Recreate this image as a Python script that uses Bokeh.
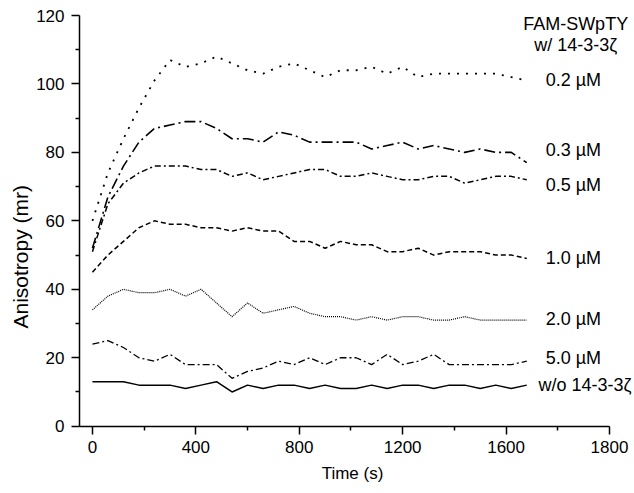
import math
from bokeh.plotting import figure
from bokeh.models import Range1d, FixedTicker, Label
from bokeh.embed import file_html
from bokeh.resources import INLINE

# ---------------- data ----------------
time_s = list(range(0, 1681, 60))

aniso_02 = [60, 74, 84, 93, 101, 107, 105, 106, 108, 106, 104, 103, 105, 106, 104,
            102, 104, 104, 105, 103, 105, 102, 103, 103, 103, 103, 103, 102, 101]
aniso_03 = [52, 67, 76, 83, 87, 88, 89, 89, 87, 84, 84, 83, 86, 85, 83,
            83, 83, 83, 81, 82, 83, 81, 82, 81, 80, 81, 80, 80, 77]
aniso_05 = [51, 65, 71, 74, 76, 76, 76, 75, 75, 73, 74, 72, 73, 74, 75,
            75, 73, 73, 74, 73, 72, 72, 73, 73, 71, 72, 73, 73, 72]
aniso_10 = [45, 50, 54, 58, 60, 59, 59, 58, 58, 57, 58, 57, 57, 54, 54,
            52, 54, 53, 53, 51, 51, 52, 50, 51, 51, 51, 50, 50, 49]
aniso_20 = [34, 38, 40, 39, 39, 40, 38, 40, 36, 32, 36, 33, 34, 35, 33,
            32, 32, 31, 32, 31, 32, 32, 31, 31, 32, 31, 31, 31, 31]
aniso_50 = [24, 25, 23, 20, 19, 21, 18, 18, 18, 14, 16, 17, 19, 18, 20,
            18, 20, 20, 18, 21, 18, 19, 21, 18, 18, 18, 18, 18, 19]
aniso_wo = [13, 13, 13, 12, 12, 12, 11, 12, 13, 10, 12, 11, 12, 12, 11,
            12, 11, 11, 12, 11, 12, 12, 11, 12, 12, 11, 12, 11, 12]

series_labels = ["0.2 \u00b5M", "0.3 \u00b5M", "0.5 \u00b5M", "1.0 \u00b5M",
                 "2.0 \u00b5M", "5.0 \u00b5M", "w/o 14-3-3\u03b6"]
header_lines = ["FAM-SWpTY", "w/ 14-3-3\u03b6"]
x_title = "Time (s)"
y_title = "Anisotropy (mr)"

x_major_ticks = [0, 400, 800, 1200, 1600, 2000]
x_tick_labels = ["0", "400", "800", "1200", "1600", "1800"]
x_minor_ticks = [200, 600, 1000, 1400, 1800]
y_major_ticks = [0, 20, 40, 60, 80, 100, 120]
y_minor_ticks = [10, 30, 50, 70, 90, 110]

# ---------------- layout (pixel geometry of the axes box) ----------------
FONT = "Liberation Sans"
W, H = 634, 493
AX_L, AX_R = 79.0, 609.0        # px of x-axis start / end
AX_T, AX_B = 15.0, 425.7        # px of y-axis top / bottom
x_ax_lo, x_ax_hi = -50, 2000
y_ax_lo, y_ax_hi = 0, 120
sx = (x_ax_hi - x_ax_lo) / (AX_R - AX_L)
sy = (y_ax_hi - y_ax_lo) / (AX_B - AX_T)
XL = x_ax_lo - AX_L * sx
XR = x_ax_lo + (W - AX_L) * sx
YT = y_ax_hi + AX_T * sy
YB = y_ax_lo - (H - AX_B) * sy

p = figure(width=W, height=H, output_backend="svg", toolbar_location=None,
           x_range=Range1d(XL, XR), y_range=Range1d(YB, YT),
           min_border_left=0, min_border_right=0, min_border_top=0,
           min_border_bottom=0)
p.xgrid.visible = False
p.ygrid.visible = False
p.outline_line_color = None
p.background_fill_color = "white"
p.border_fill_color = "white"

p.xaxis.fixed_location = y_ax_lo
p.yaxis.fixed_location = x_ax_lo
p.xaxis.bounds = (x_ax_lo, x_ax_hi)
p.yaxis.bounds = (y_ax_lo, y_ax_hi)
p.xaxis.ticker = FixedTicker(ticks=x_major_ticks, minor_ticks=x_minor_ticks)
p.xaxis.major_label_overrides = {t: l for t, l in zip(x_major_ticks, x_tick_labels)}
p.yaxis.ticker = FixedTicker(ticks=y_major_ticks, minor_ticks=y_minor_ticks)

for ax in (p.xaxis[0], p.yaxis[0]):
    ax.axis_line_color = "black"
    ax.axis_line_width = 1.5
    ax.major_tick_line_color = "black"
    ax.major_tick_line_width = 1.5
    ax.minor_tick_line_color = "black"
    ax.minor_tick_line_width = 1.5
    ax.major_tick_out = 8
    ax.major_tick_in = 0
    ax.minor_tick_out = 4
    ax.minor_tick_in = 0
    ax.major_label_text_font = FONT
    ax.major_label_text_font_size = "17px"
    ax.major_label_text_color = "black"
    ax.major_label_standoff = 7

styles = [
    dict(line_dash="2 7", line_width=1.8),
    dict(line_dash="11 4 2 4", line_width=1.6),
    dict(line_dash="6 3 2 3", line_width=1.5),
    dict(line_dash="5 3", line_width=1.5),
    dict(line_dash="1 1", line_width=1.2),
    dict(line_dash="7 3 2 3", line_width=1.3),
    dict(line_dash="solid", line_width=1.5),
]
all_series = [aniso_02, aniso_03, aniso_05, aniso_10, aniso_20, aniso_50, aniso_wo]
for ys, st in zip(all_series, styles):
    p.line(time_s, ys, line_color="black", **st)

label_y = [101.3, 80.6, 70.4, 49.0, 31.2, 19.8, 11.9]
label_x = [1753, 1753, 1753, 1753, 1753, 1753, 1725]
for txt, lx, ly in zip(series_labels, label_x, label_y):
    p.add_layout(Label(x=lx, y=ly, text=txt, text_font=FONT, text_font_size="18px",
                       text_baseline="middle", text_align="left", text_color="black"))

for txt, ly in zip(header_lines, [117.4, 111.5]):
    p.add_layout(Label(x=1869, y=ly, text=txt, text_font=FONT, text_font_size="18px",
                       text_baseline="middle", text_align="center", text_color="black"))

# axis titles
p.add_layout(Label(x=XL + 20 * sx, y=49.5, text=y_title, angle=math.pi / 2,
                   text_font=FONT, text_font_size="21px", text_align="center",
                   text_baseline="middle", text_color="black"))
p.add_layout(Label(x=1006, y=y_ax_lo - (473 - AX_B) * sy, text=x_title,
                   text_font=FONT, text_font_size="17px", text_align="center",
                   text_baseline="middle", text_color="black"))

open("out.html", "w").write(file_html(p, INLINE))
